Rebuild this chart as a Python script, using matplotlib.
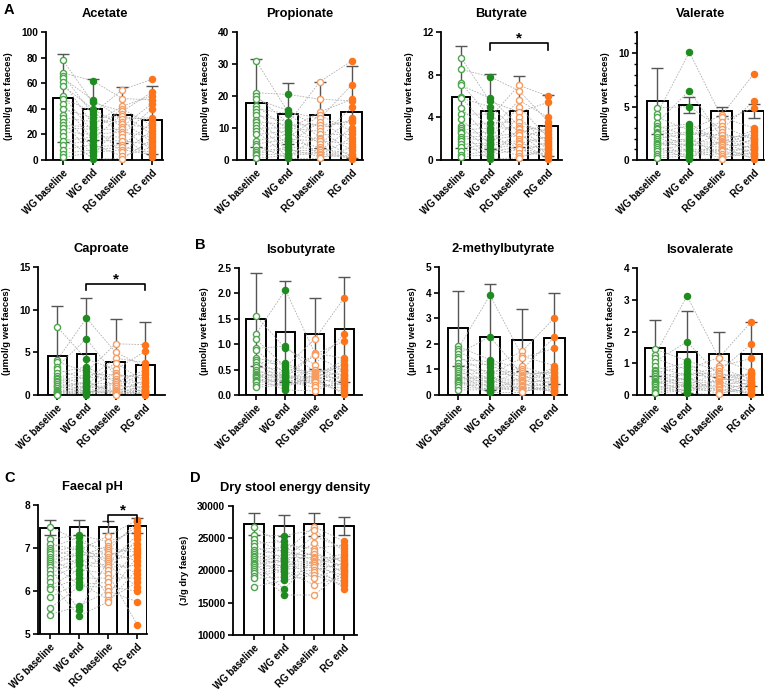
import matplotlib
matplotlib.use("Agg")
import matplotlib.pyplot as plt
from matplotlib.ticker import MultipleLocator

plt.rcParams['font.family'] = ['Liberation Sans', 'DejaVu Sans']
plt.rcParams['font.weight'] = 'bold'
plt.rcParams['axes.labelweight'] = 'bold'

groups = ["WG baseline", "WG end", "RG baseline", "RG end"]

# subject pairing (index into each column's value list)
pair_wge = [2, 0, 5, 1, 8, 3, 11, 4, 14, 6, 17, 7, 20, 9, 10, 12, 21, 13, 15, 16, 18, 19]
pair_rgb = [4, 1, 0, 7, 2, 10, 3, 13, 5, 6, 16, 8, 9, 19, 11, 12, 21, 14, 15, 20, 17, 18]
pair_rge = [1, 3, 0, 6, 2, 4, 9, 5, 12, 7, 8, 15, 10, 11, 18, 13, 14, 21, 16, 17, 19, 20]

# ---- Acetate ----
acetate_mean = [48.5, 39.5, 35.0, 31.0]
acetate_sd = [34.5, 23.5, 22.0, 26.5]
acetate_wgb = [78, 68, 66, 64, 61, 58, 50, 48, 44, 40, 35, 33, 30, 27, 25, 22, 19, 15, 12, 8, 5, 2]
acetate_wge = [62, 47, 45, 40, 38, 36, 33, 30, 28, 26, 24, 22, 20, 18, 16, 15, 12, 10, 8, 6, 4, 1]
acetate_rgb = [55, 48, 42, 40, 38, 36, 34, 32, 30, 28, 26, 24, 22, 20, 18, 15, 12, 10, 8, 6, 3, 1]
acetate_rge = [63, 53, 50, 47, 44, 40, 33, 31, 29, 27, 25, 23, 20, 18, 16, 14, 12, 10, 8, 6, 4, 2]

# ---- Propionate ----
propionate_mean = [17.8, 14.5, 14.0, 15.0]
propionate_sd = [13.7, 9.5, 10.3, 14.3]
propionate_wgb = [31, 21, 20, 19, 17, 16, 15, 14, 12.5, 12, 11, 10, 9, 8, 6, 5, 4.5, 3, 2.5, 2, 1.5, 0.5]
propionate_wge = [20.5, 15.5, 15, 14.5, 12, 11.5, 11, 10, 9.5, 9, 8, 7, 6.5, 6, 5, 4, 3.5, 3, 2, 1.5, 1, 0.5]
propionate_rgb = [24.5, 19, 15, 14, 13, 12, 11, 10, 9, 8, 7, 6.5, 6, 5, 4, 3.5, 3, 2.5, 2, 1.5, 1, 0.5]
propionate_rge = [31, 23.5, 19, 18.5, 16.5, 13, 12.5, 12, 10, 9, 8, 7, 6, 5, 4, 3, 2, 1.5, 1, 0.8, 0.5, 0.3]

# ---- Butyrate ----
butyrate_mean = [5.9, 4.55, 4.55, 3.2]
butyrate_sd = [4.8, 3.55, 3.3, 2.85]
butyrate_wgb = [9.6, 8.5, 7.2, 7.0, 5.9, 5.8, 4.9, 4.3, 3.8, 3.2, 3.0, 2.8, 2.6, 2.5, 2.2, 2.0, 1.8, 1.5, 1.2, 0.8, 0.5, 0.3]
butyrate_wge = [7.8, 5.8, 5.5, 5.0, 4.3, 4.0, 3.5, 3.0, 2.8, 2.6, 2.2, 2.0, 1.9, 1.6, 1.5, 1.4, 1.2, 1.0, 0.8, 0.5, 0.3, 0.1]
butyrate_rgb = [7.0, 6.5, 5.6, 5.0, 4.5, 4.0, 3.6, 3.2, 3.0, 2.9, 2.6, 2.5, 2.3, 2.0, 1.8, 1.6, 1.5, 1.2, 1.0, 0.7, 0.4, 0.2]
butyrate_rge = [6.0, 5.4, 4.0, 3.6, 3.3, 3.0, 2.7, 2.4, 2.2, 2.1, 1.9, 1.7, 1.5, 1.3, 1.1, 1.0, 0.9, 0.7, 0.5, 0.4, 0.3, 0.1]

# ---- Valerate ----
valerate_mean = [5.55, 5.15, 4.55, 4.6]
valerate_sd = [3.1, 0.75, 0.4, 0.65]
valerate_wgb = [4.9, 4.3, 4.0, 3.5, 3.2, 3.0, 2.9, 2.6, 2.5, 2.4, 2.2, 2.0, 1.8, 1.6, 1.5, 1.4, 1.2, 1.0, 0.8, 0.6, 0.4, 0.2]
valerate_wge = [10.1, 6.5, 5.0, 3.4, 3.2, 2.8, 2.6, 2.5, 2.2, 2.0, 1.8, 1.6, 1.5, 1.4, 1.2, 1.0, 0.9, 0.8, 0.6, 0.4, 0.2, 0.1]
valerate_rgb = [4.2, 4.0, 3.6, 3.2, 2.9, 2.6, 2.3, 2.1, 2.0, 1.8, 1.7, 1.6, 1.5, 1.4, 1.2, 1.0, 0.9, 0.8, 0.6, 0.4, 0.2, 0.1]
valerate_rge = [8.1, 5.5, 4.9, 3.0, 2.8, 2.6, 2.3, 2.1, 2.0, 1.9, 1.7, 1.5, 1.3, 1.2, 1.1, 1.0, 0.9, 0.7, 0.6, 0.5, 0.3, 0.1]

# ---- Caproate ----
caproate_mean = [4.6, 4.85, 3.9, 3.55]
caproate_sd = [5.8, 6.55, 5.0, 5.0]
caproate_wgb = [8.0, 4.1, 3.9, 3.3, 3.0, 2.6, 2.2, 2.0, 1.9, 1.6, 1.5, 1.3, 1.1, 1.0, 0.8, 0.6, 0.5, 0.4, 0.3, 0.2, 0.1, 0.05]
caproate_wge = [9.0, 6.6, 4.2, 3.3, 3.0, 2.7, 2.4, 2.1, 1.8, 1.5, 1.4, 1.2, 1.0, 0.9, 0.8, 0.6, 0.5, 0.4, 0.3, 0.2, 0.1, 0.05]
caproate_rgb = [6.0, 5.0, 4.3, 3.8, 3.0, 2.6, 2.4, 2.2, 1.9, 1.6, 1.5, 1.3, 1.1, 1.0, 0.8, 0.6, 0.5, 0.4, 0.3, 0.2, 0.1, 0.05]
caproate_rge = [5.9, 5.1, 3.8, 3.3, 2.9, 2.6, 2.3, 2.0, 1.7, 1.5, 1.4, 1.1, 1.0, 0.9, 0.7, 0.6, 0.5, 0.4, 0.3, 0.2, 0.1, 0.05]

# ---- Isobutyrate ----
isobutyrate_mean = [1.49, 1.25, 1.21, 1.29]
isobutyrate_sd = [0.92, 1.0, 0.70, 1.03]
isobutyrate_wgb = [1.55, 1.2, 1.1, 0.92, 0.88, 0.72, 0.68, 0.65, 0.6, 0.55, 0.5, 0.45, 0.42, 0.4, 0.38, 0.35, 0.33, 0.3, 0.28, 0.25, 0.2, 0.15]
isobutyrate_wge = [2.07, 0.96, 0.92, 0.63, 0.6, 0.55, 0.5, 0.45, 0.42, 0.4, 0.38, 0.36, 0.35, 0.32, 0.3, 0.28, 0.27, 0.25, 0.22, 0.2, 0.15, 0.1]
isobutyrate_rgb = [1.1, 0.83, 0.8, 0.78, 0.6, 0.5, 0.46, 0.44, 0.42, 0.4, 0.38, 0.36, 0.35, 0.33, 0.32, 0.3, 0.29, 0.27, 0.25, 0.2, 0.15, 0.08]
isobutyrate_rge = [1.91, 1.2, 1.06, 0.72, 0.68, 0.62, 0.58, 0.52, 0.5, 0.47, 0.42, 0.4, 0.38, 0.34, 0.32, 0.3, 0.26, 0.22, 0.18, 0.12, 0.06, 0.02]

# ---- 2-methylbutyrate ----
mb2_mean = [2.6, 2.28, 2.15, 2.22]
mb2_sd = [1.45, 2.07, 1.2, 1.78]
mb2_wgb = [1.9, 1.8, 1.7, 1.6, 1.5, 1.4, 1.25, 1.15, 1.05, 1.0, 0.95, 0.85, 0.8, 0.7, 0.65, 0.6, 0.55, 0.5, 0.45, 0.4, 0.3, 0.2]
mb2_wge = [3.9, 2.28, 1.38, 1.3, 1.2, 1.1, 0.95, 0.85, 0.8, 0.7, 0.65, 0.6, 0.55, 0.5, 0.45, 0.4, 0.35, 0.3, 0.25, 0.2, 0.15, 0.1]
mb2_rgb = [1.7, 1.52, 1.45, 1.12, 1.0, 0.95, 0.85, 0.8, 0.75, 0.7, 0.65, 0.6, 0.55, 0.5, 0.45, 0.4, 0.35, 0.3, 0.25, 0.2, 0.15, 0.1]
mb2_rge = [3.0, 2.25, 1.82, 1.15, 1.05, 1.0, 0.9, 0.85, 0.75, 0.7, 0.65, 0.6, 0.55, 0.5, 0.45, 0.4, 0.35, 0.3, 0.25, 0.2, 0.15, 0.1]

# ---- Isovalerate ----
isovalerate_mean = [1.48, 1.35, 1.28, 1.29]
isovalerate_sd = [0.89, 1.28, 0.72, 1.02]
isovalerate_wgb = [1.45, 1.25, 1.15, 1.05, 0.9, 0.8, 0.75, 0.7, 0.65, 0.6, 0.55, 0.5, 0.45, 0.4, 0.38, 0.35, 0.3, 0.25, 0.2, 0.15, 0.1, 0.05]
isovalerate_wge = [3.12, 1.68, 1.08, 1.0, 0.9, 0.8, 0.7, 0.65, 0.6, 0.55, 0.5, 0.45, 0.4, 0.35, 0.32, 0.3, 0.28, 0.25, 0.2, 0.15, 0.1, 0.05]
isovalerate_rgb = [1.18, 1.15, 0.9, 0.85, 0.75, 0.7, 0.65, 0.6, 0.55, 0.5, 0.45, 0.4, 0.38, 0.35, 0.3, 0.28, 0.25, 0.2, 0.15, 0.1, 0.05, 0.02]
isovalerate_rge = [2.3, 1.6, 1.15, 0.75, 0.7, 0.68, 0.65, 0.6, 0.55, 0.5, 0.45, 0.42, 0.4, 0.35, 0.33, 0.3, 0.25, 0.2, 0.15, 0.1, 0.05, 0.03]

# ---- Faecal pH ----
ph_mean = [7.47, 7.48, 7.48, 7.52]
ph_sd = [0.17, 0.17, 0.14, 0.17]
ph_wgb = [7.5, 7.2, 7.1, 7.0, 6.95, 6.9, 6.85, 6.8, 6.75, 6.7, 6.65, 6.6, 6.55, 6.5, 6.4, 6.3, 6.2, 6.1, 6.05, 5.85, 5.6, 5.45]
ph_wge = [7.3, 7.25, 7.15, 7.05, 7.0, 6.95, 6.9, 6.85, 6.8, 6.75, 6.7, 6.65, 6.6, 6.5, 6.4, 6.3, 6.2, 6.15, 6.1, 5.65, 5.55, 5.42]
ph_rgb = [7.28, 7.15, 7.05, 7.0, 6.95, 6.9, 6.85, 6.8, 6.75, 6.7, 6.65, 6.6, 6.55, 6.5, 6.4, 6.3, 6.2, 6.1, 6.0, 5.9, 5.8, 5.75]
ph_rge = [7.65, 7.6, 7.5, 7.4, 7.3, 7.2, 7.1, 7.0, 6.95, 6.9, 6.85, 6.8, 6.7, 6.6, 6.5, 6.4, 6.3, 6.2, 6.1, 6.0, 5.75, 5.22]

# ---- Dry stool energy density ----
energy_mean = [27200, 26950, 27150, 26900]
energy_sd = [1700, 1650, 1750, 1400]
energy_wgb = [26700, 25500, 24900, 24200, 23800, 23200, 22900, 22500, 22300, 22100, 21800, 21500, 21200, 21000, 20900, 20600, 20300, 20000, 19600, 19200, 18800, 17500]
energy_wge = [25400, 24500, 24000, 23600, 23200, 22800, 22400, 22000, 21900, 21700, 21400, 21100, 20800, 20600, 20500, 20200, 19900, 19500, 19000, 18500, 17100, 16200]
energy_rgb = [26800, 26300, 25300, 24300, 23400, 23000, 22500, 22100, 22000, 21800, 21500, 21300, 21200, 20900, 20800, 20500, 20100, 19700, 19300, 18800, 17800, 16200]
energy_rge = [24500, 24000, 23500, 23000, 22600, 22200, 21800, 21400, 21100, 21000, 20800, 20500, 20200, 20000, 19900, 19600, 19300, 19000, 18600, 18200, 17700, 17200]

UM = "(\u00b5mol/g wet faeces)"

W, H = 767, 692
fig = plt.figure(figsize=(W / 100, H / 100), dpi=100)

GREEN = "#1e8c1e"
GREEN_L = "#4ea64e"
ORANGE = "#ff7418"
ORANGE_L = "#f89c60"

def px_axes(x0, x1, ytop, ybot):
    return fig.add_axes([x0 / W, 1 - ybot / H, (x1 - x0) / W, (ybot - ytop) / H])

panels = [
    # title, vals, mean, sd, ylim, yticks, ylabel, axes px, xlim, sig
    ("Acetate", [acetate_wgb, acetate_wge, acetate_rgb, acetate_rge], acetate_mean, acetate_sd,
     (0, 100), [0, 20, 40, 60, 80, 100], UM, (46, 163, 32, 160), (-0.57, 3.37), None),
    ("Propionate", [propionate_wgb, propionate_wge, propionate_rgb, propionate_rge], propionate_mean, propionate_sd,
     (0, 40), [0, 10, 20, 30, 40], UM, (237, 363, 32, 160), (-0.6, 3.35), None),
    ("Butyrate", [butyrate_wgb, butyrate_wge, butyrate_rgb, butyrate_rge], butyrate_mean, butyrate_sd,
     (0, 12), [0, 4, 8, 12], UM, (441, 562, 32, 160), (-0.69, 3.48), (1, 3, 10.95, 10.3, 11.35)),
    ("Valerate", [valerate_wgb, valerate_wge, valerate_rgb, valerate_rge], valerate_mean, valerate_sd,
     (0, 12), [0, 5, 10], UM, (637, 764, 32, 160), (-0.62, 3.31), None),
    ("Caproate", [caproate_wgb, caproate_wge, caproate_rgb, caproate_rge], caproate_mean, caproate_sd,
     (0, 15), [0, 5, 10, 15], UM, (38, 165, 267, 395), (-0.65, 3.68), (1, 3, 13.0, 12.3, 13.5)),
    ("Isobutyrate", [isobutyrate_wgb, isobutyrate_wge, isobutyrate_rgb, isobutyrate_rge], isobutyrate_mean, isobutyrate_sd,
     (0, 2.5), [0.0, 0.5, 1.0, 1.5, 2.0, 2.5], UM, (239, 362, 268, 395), (-0.58, 3.61), None),
    ("2-methylbutyrate", [mb2_wgb, mb2_wge, mb2_rgb, mb2_rge], mb2_mean, mb2_sd,
     (0, 5), [0, 1, 2, 3, 4, 5], UM, (439, 567, 267, 395), (-0.59, 3.4), None),
    ("Isovalerate", [isovalerate_wgb, isovalerate_wge, isovalerate_rgb, isovalerate_rge], isovalerate_mean, isovalerate_sd,
     (0, 4), [0, 1, 2, 3, 4], UM, (637, 763, 268, 395), (-0.56, 3.37), None),
    ("Faecal pH", [ph_wgb, ph_wge, ph_rgb, ph_rge], ph_mean, ph_sd,
     (5, 8), [5, 6, 7, 8], None, (38, 147, 505, 634), (-0.41, 3.34), (2, 3, 7.77, 7.6, 7.87)),
    ("Dry stool energy density", [energy_wgb, energy_wge, energy_rgb, energy_rge], energy_mean, energy_sd,
     (10000, 30000), [10000, 15000, 20000, 25000, 30000], "(J/g dry faeces)", (233, 357, 506, 635), (-0.7, 3.43), None),
]

pairs = [list(range(22)), pair_wge, pair_rgb, pair_rge]
edge_cols = [GREEN_L, GREEN, ORANGE_L, ORANGE]
face_cols = ["white", GREEN, "white", ORANGE]

for (title, vals, mean, sd, ylim, yticks, ylabel, pos, xlim, sig) in panels:
    ax = px_axes(*pos)
    xs = list(range(4))
    ax.bar(xs, mean, width=0.65, color="white", edgecolor="black", linewidth=1.4, zorder=1)
    # subject lines
    for s in range(22):
        ys = [vals[g][pairs[g][s]] for g in range(4)]
        ax.plot(xs, ys, ls=(0, (2, 1.5)), color="#b0b0b0", lw=0.6, zorder=2)
    ax.errorbar(xs, mean, yerr=sd, fmt="none", ecolor="#555555", elinewidth=1.0,
                capsize=4.5, capthick=1.0, zorder=3)
    for g in range(4):
        ax.plot([g] * len(vals[g]), vals[g], ls="none", marker="o", ms=4.4,
                mfc=face_cols[g], mec=edge_cols[g], mew=1.0, zorder=4, clip_on=False)
    ax.set_xlim(*xlim)
    ax.set_ylim(*ylim)
    ax.set_yticks(yticks)
    if title == "Valerate":
        ax.yaxis.set_minor_locator(MultipleLocator(1))
        ax.tick_params(axis="y", which="minor", length=2, width=1)
    if title == "Isobutyrate":
        ax.set_yticklabels(["%.1f" % t for t in yticks])
    ax.set_xticks(xs)
    ax.set_xticklabels(groups, rotation=45, ha="right", va="top", rotation_mode="anchor",
                       fontsize=7, fontweight="bold")
    ax.tick_params(axis="y", labelsize=7.3, length=3.5, width=1.2, pad=2)
    ax.tick_params(axis="x", length=3.5, width=1.2, pad=2)
    for lab in ax.get_yticklabels():
        lab.set_fontweight("bold")
    ax.spines["top"].set_visible(False)
    ax.spines["right"].set_visible(False)
    ax.spines["left"].set_linewidth(1.3)
    ax.spines["bottom"].set_linewidth(1.3)
    ax.set_title(title, fontsize=9.3, fontweight="bold", pad=11)
    if ylabel:
        ax.set_ylabel(ylabel, fontsize=6.8, fontweight="bold", labelpad=6)
    if sig:
        x1, x2, yb, yd, ys = sig
        ax.plot([x1, x1, x2, x2], [yd, yb, yb, yd], color="black", lw=1.2, zorder=5, clip_on=False)
        ax.text((x1 + x2) / 2, ys, "*", ha="center", va="center", fontsize=11, fontweight="bold")

for letter, x, y in [("A", 4, 10), ("B", 195, 245), ("C", 4, 478), ("D", 190, 478)]:
    fig.text(x / W, 1 - y / H, letter, fontsize=10.5, fontweight="bold", ha="left", va="center")

fig.savefig("out.png", dpi=100)
